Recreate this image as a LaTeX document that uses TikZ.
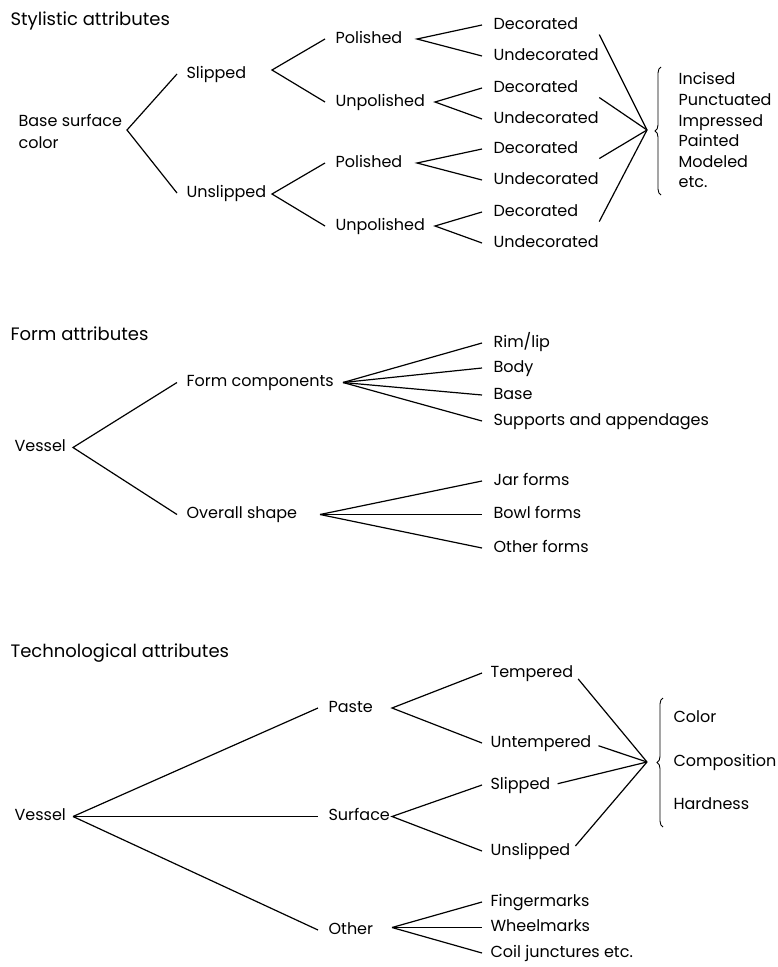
\documentclass[tikz,border=0pt]{standalone}
\usepackage{fontspec}
\setmainfont{Poppins}
\usetikzlibrary{decorations.pathreplacing}

\begin{document}
\fontsize{16}{22}\selectfont
\begin{tikzpicture}[x=1pt, y=-1pt, line width=1.2pt,
    lbl/.style={anchor=mid west, inner sep=0pt, font=\fontsize{16}{22}\selectfont},
    ttl/.style={anchor=mid west, inner sep=0pt, font=\fontsize{18}{22}\selectfont},
    brc/.style={decorate, decoration={brace, amplitude=6pt}, line width=0.9pt}]

  \useasboundingbox (0,0) rectangle (778,967);

  % stylistic attributes
  \node[ttl] (sty) at (10,21) {Stylistic attributes};
  \node[lbl, anchor=west, align=left] (bsc) at (18,131) {Base surface\\color};
  \coordinate (bsc-a) at (127,130);

  \node[lbl] (slp) at (186,74) {Slipped};
  \node[lbl] (uns) at (186,193) {Unslipped};
  \draw ([xshift=-9]slp.mid west) -- (bsc-a) -- ([xshift=-9]uns.mid west);

  \foreach \n/\t/\y/\ax in {1/Polished/39/417, 2/Unpolished/102/435,
                            3/Polished/163/417, 4/Unpolished/226/435}{
    \node[lbl] (p\n) at (335,\y) {\t};
    \coordinate (p\n-a) at (\ax,\y);
    \node[lbl] (d\n) at (493,\y-14) {Decorated};
    \node[lbl] (u\n) at (493,\y+17) {Undecorated};
    \draw ([xshift=-11]d\n.mid west) -- (p\n-a) -- ([xshift=-11]u\n.mid west);
  }

  \coordinate (slp-a) at (272,70);
  \coordinate (uns-a) at (272,194);
  \draw ([xshift=-10]p1.mid west) -- (slp-a) -- ([xshift=-10]p2.mid west);
  \draw ([xshift=-10]p3.mid west) -- (uns-a) -- ([xshift=-10]p4.mid west);

  \coordinate (dec-c) at (647,130);
  \foreach \n in {1,...,4}
    \draw ([yshift=20]u\n.east) -- (dec-c);

  \draw[brc] (661,195) -- (661,67);
  \foreach \t [count=\i, evaluate=\i as \yy using 60+20.6*\i]
      in {Incised,Punctuated,Impressed,Painted,Modeled,etc.}
    \node[lbl] (m\i) at (678,\yy) {\t};

  % form attributes
  \node[ttl] (frm) at (10,336) {Form attributes};
  \node[lbl] (fv) at (14,447.5) {Vessel};
  \coordinate (fv-a) at (73,447.5);
  \node[lbl] (fc) at (186,382.5) {Form components};
  \node[lbl] (os) at (186,514.5) {Overall shape};
  \draw ([xshift=-9]fc.mid west) -- (fv-a) -- ([xshift=-9]os.mid west);

  \coordinate (fc-a) at (343,382.5);
  \foreach \y/\t [count=\i] in {343/{Rim/lip}, 368/Body, 395/Base, 421/Supports and appendages}{
    \node[lbl] (fc\i) at (493,\y) {\t};
    \draw (fc-a) -- ([xshift=-11]fc\i.mid west);
  }

  \coordinate (os-a) at (320,514.5);
  \foreach \y/\t [count=\i] in {481/Jar forms, 514.5/Bowl forms, 548/Other forms}{
    \node[lbl] (os\i) at (493,\y) {\t};
    \draw (os-a) -- ([xshift=-11]os\i.mid west);
  }

  % technological attributes
  \node[ttl] (tec) at (10,653) {Technological attributes};
  \node[lbl] (tv) at (14,816.5) {Vessel};
  \coordinate (tv-a) at (73,816.5);
  \node[lbl] (pst) at (328,708) {Paste};
  \node[lbl] (srf) at (328,816.5) {Surface};
  \node[lbl] (oth) at (328,930) {Other};
  \foreach \m in {pst,srf,oth}
    \draw (tv-a) -- ([xshift=-10]\m.mid west);

  \coordinate (pst-a) at (392,708);
  \coordinate (srf-a) at (392,816.5);
  \coordinate (oth-a) at (392,927.5);
  \node[lbl] (tmp) at (490,673) {Tempered};
  \node[lbl] (utm) at (490,743) {Untempered};
  \node[lbl] (tsl) at (490,785) {Slipped};
  \node[lbl] (tus) at (490,851) {Unslipped};
  \draw ([xshift=-8]tmp.mid west) -- (pst-a) -- ([xshift=-8]utm.mid west);
  \draw ([xshift=-8]tsl.mid west) -- (srf-a) -- ([xshift=-8]tus.mid west);

  \foreach \y/\t [count=\i] in {902/Fingermarks, 927.5/Wheelmarks, 953/Coil junctures etc.}{
    \node[lbl] (ot\i) at (490,\y) {\t};
    \draw (oth-a) -- ([xshift=-8]ot\i.mid west);
  }

  \coordinate (tec-c) at (647,762);
  \foreach \m in {tmp,utm,tsl,tus}
    \draw[shorten >=7pt] (tec-c) -- (\m.east);

  \draw[brc] (663,827) -- (663,698);
  \node[lbl] (col) at (673,718) {Color};
  \node[lbl] (cmp) at (673,762) {Composition};
  \node[lbl] (hrd) at (673,805) {Hardness};
\end{tikzpicture}
\end{document}
